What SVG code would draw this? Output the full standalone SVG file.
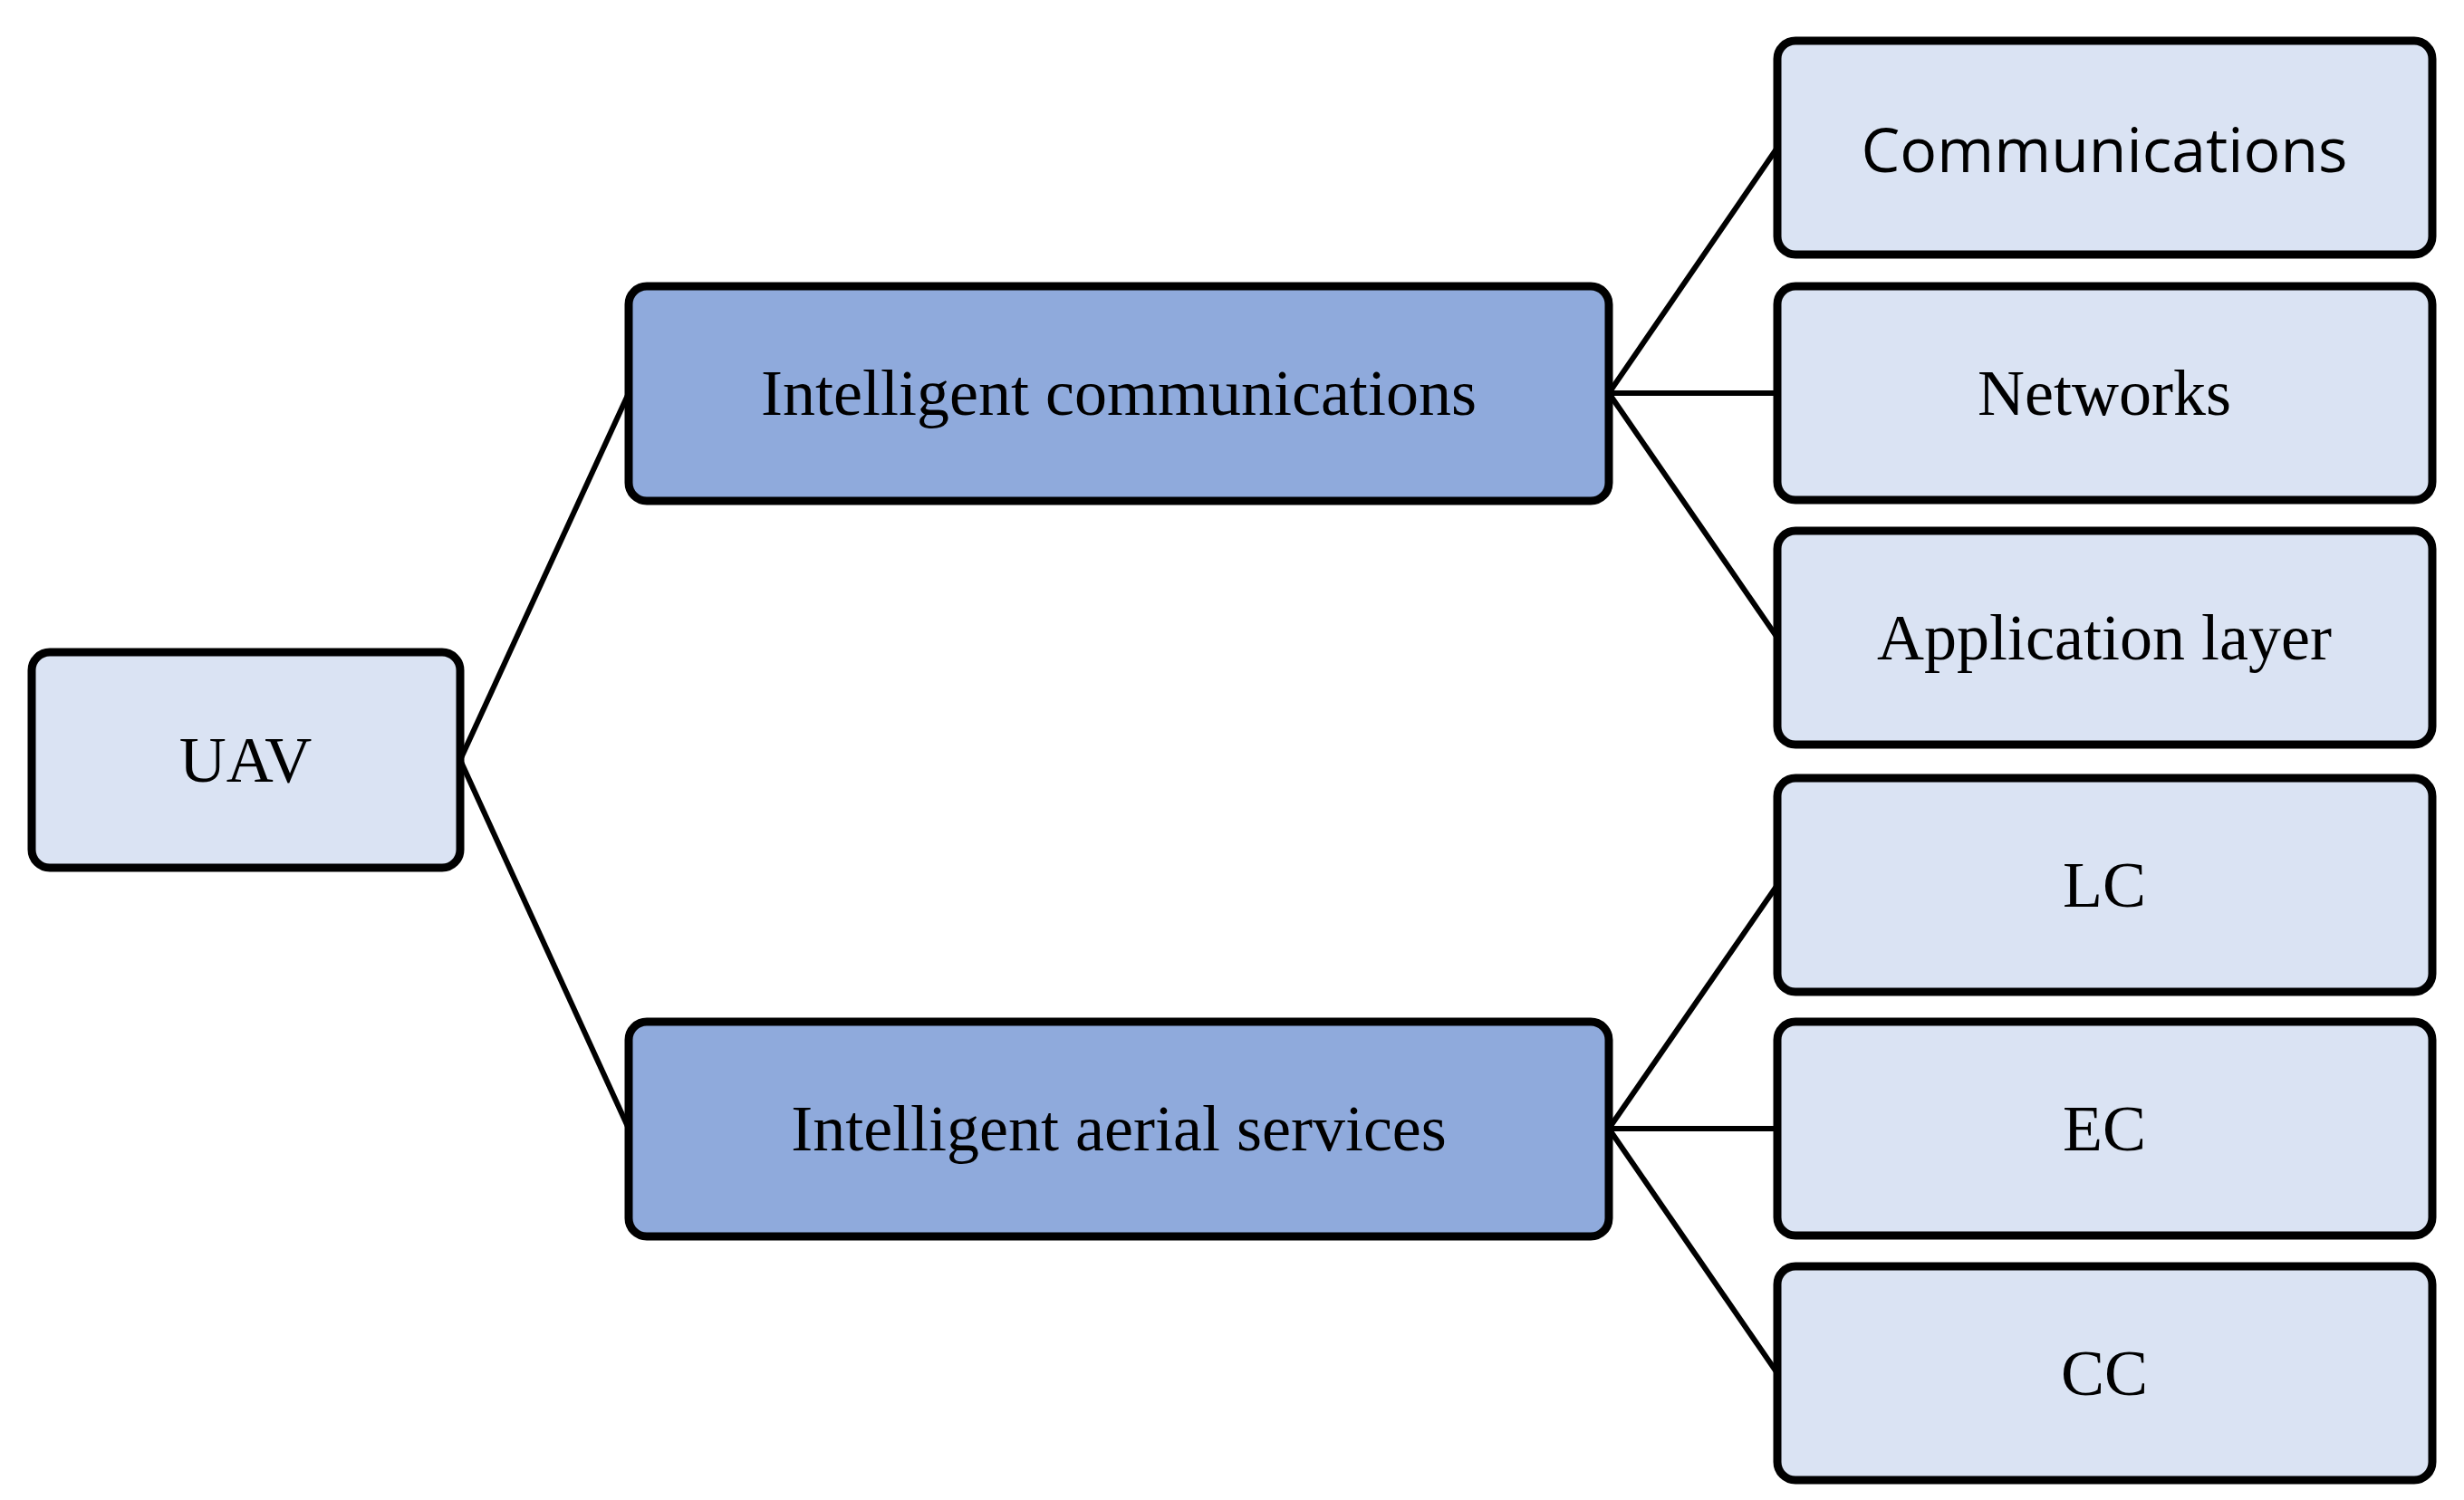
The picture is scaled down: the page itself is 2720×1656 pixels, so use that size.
<svg xmlns="http://www.w3.org/2000/svg" width="2720" height="1656" viewBox="0 0 2720 1656">
<style>
.l{fill:#DAE3F3;stroke:#000;stroke-width:9}
.d{fill:#8FAADC;stroke:#000;stroke-width:9}
text{font-family:"Liberation Serif","DejaVu Serif",serif;font-size:72px;text-anchor:middle;dominant-baseline:central;fill:#000}
.s{font-family:"Open Sans","Liberation Sans",sans-serif;font-size:68px}
#connectors line{stroke:#000;stroke-width:6}
</style>
<rect width="2720" height="1656" fill="#fff"/>
<g id="connectors">
<line x1="508" y1="839" x2="694" y2="434"/>
<line x1="508" y1="839" x2="694" y2="1246"/>
<line x1="1776" y1="434" x2="1962" y2="163"/>
<line x1="1776" y1="434" x2="1962" y2="434"/>
<line x1="1776" y1="434" x2="1962" y2="704"/>
<line x1="1776" y1="1246" x2="1962" y2="977"/>
<line x1="1776" y1="1246" x2="1962" y2="1246"/>
<line x1="1776" y1="1246" x2="1962" y2="1516"/>
</g>
<g id="uav"><rect class="l" x="35" y="720" width="473" height="238" rx="20"/><text x="271" y="839">UAV</text></g>
<g id="ic"><rect class="d" x="694" y="316" width="1082" height="237" rx="20"/><text x="1235" y="434">Intelligent communications</text></g>
<g id="ias"><rect class="d" x="694" y="1128" width="1082" height="237" rx="20"/><text x="1235" y="1246">Intelligent aerial services</text></g>
<g id="comm"><rect class="l" x="1962" y="45" width="723" height="236" rx="20"/><text class="s" x="2323" y="163">Communications</text></g>
<g id="net"><rect class="l" x="1962" y="316" width="723" height="236" rx="20"/><text x="2323" y="434">Networks</text></g>
<g id="app"><rect class="l" x="1962" y="586" width="723" height="236" rx="20"/><text x="2323" y="704">Application layer</text></g>
<g id="lc"><rect class="l" x="1962" y="859" width="723" height="236" rx="20"/><text x="2323" y="977">LC</text></g>
<g id="ec"><rect class="l" x="1962" y="1128" width="723" height="236" rx="20"/><text x="2323" y="1246">EC</text></g>
<g id="cc"><rect class="l" x="1962" y="1398" width="723" height="236" rx="20"/><text x="2323" y="1516">CC</text></g>
</svg>
